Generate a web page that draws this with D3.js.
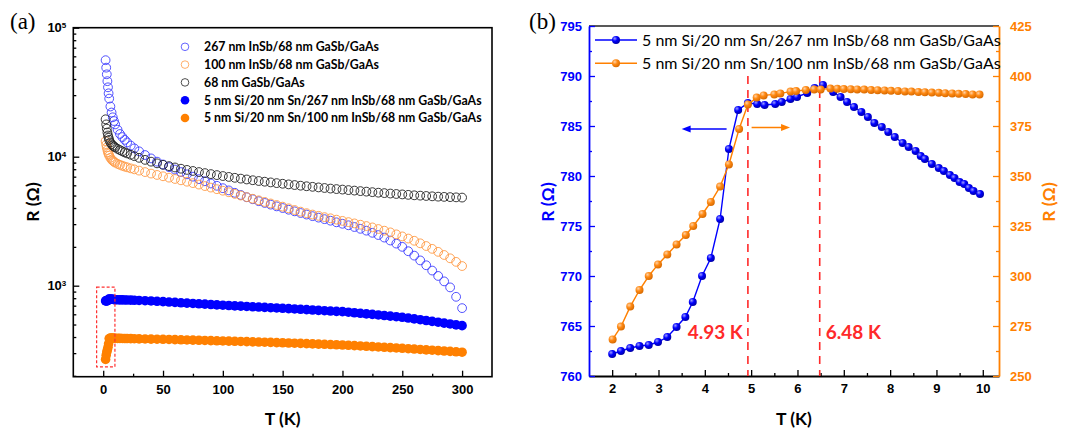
<!DOCTYPE html>
<meta charset="utf-8">
<style>
    body {
        margin: 0;
        background: #fff;
    }

    svg {
        font-family: Lato, "Open Sans", sans-serif;
    }

    .tick text {
        font-weight: bold;
        font-size: 13px;
    }

    .ttl {
        font-weight: bold;
        font-size: 17.5px;
    }
</style>

<body>
    <script src="https://cdn.jsdelivr.net/npm/d3@7"></script>
    <script>
        // ---- panel (a): R(T) from 2 K to 300 K ----
        var tempA = [2, 2.5, 3, 3.5, 4, 4.5, 5, 6, 7, 8, 9, 10, 12, 14, 16, 18, 20, 23, 26, 30,
            35, 40, 45, 50, 55, 60, 65, 70, 75, 80, 85, 90, 95, 100, 105, 110, 115, 120, 125, 130,
            135, 140, 145, 150, 155, 160, 165, 170, 175, 180, 185, 190, 195, 200, 205, 210, 215, 220,
            225, 230, 235, 240, 245, 250, 255, 260, 265, 270, 275, 280, 285, 290, 295, 300];

        // 267 nm InSb/68 nm GaSb/GaAs
        var rInSb267 = [56000, 49000, 43500, 38500, 34500, 31000, 28200, 24500, 22000, 20200, 18900, 17800, 16200, 15000, 14200, 13500, 12900, 12200, 11600, 11000,
            10300, 9700, 9150, 8700, 8300, 7950, 7600, 7300, 7000, 6700, 6450, 6200, 5950, 5700, 5480, 5250, 5050, 4850, 4680, 4520,
            4380, 4250, 4120, 4000, 3880, 3770, 3660, 3560, 3460, 3370, 3280, 3190, 3100, 3020, 2940, 2850, 2760, 2670,
            2570, 2470, 2360, 2240, 2120, 2000, 1850, 1710, 1570, 1440, 1310, 1190, 1080, 970, 820, 670];

        // 100 nm InSb/68 nm GaSb/GaAs
        var rInSb100 = [13200, 12400, 11800, 11250, 10800, 10500, 10200, 9800, 9500, 9300, 9150, 9000, 8800, 8650, 8500, 8380, 8270, 8120, 7980, 7800,
            7600, 7400, 7220, 7050, 6880, 6720, 6560, 6400, 6240, 6080, 5920, 5760, 5600, 5450, 5300, 5150, 5000, 4860, 4720, 4590,
            4460, 4340, 4220, 4100, 3980, 3860, 3750, 3650, 3560, 3480, 3400, 3330, 3250, 3180, 3110, 3040, 2970, 2900,
            2830, 2750, 2670, 2590, 2500, 2410, 2320, 2230, 2130, 2030, 1930, 1830, 1730, 1630, 1530, 1420];

        // 68 nm GaSb/GaAs
        var rGaSb = [19500, 17800, 16500, 15400, 14600, 14000, 13500, 12900, 12500, 12200, 12000, 11800, 11500, 11250, 11000, 10800, 10600, 10350, 10100, 9800,
            9450, 9150, 8880, 8650, 8450, 8250, 8070, 7900, 7750, 7600, 7460, 7330, 7200, 7080, 6970, 6860, 6760, 6660, 6570, 6480,
            6400, 6320, 6240, 6170, 6100, 6030, 5960, 5900, 5840, 5780, 5720, 5660, 5610, 5560, 5510, 5460, 5410, 5360,
            5310, 5260, 5220, 5180, 5140, 5100, 5060, 5020, 4990, 4960, 4930, 4900, 4880, 4860, 4840, 4820];

        // 5 nm Si/20 nm Sn/267 nm InSb/68 nm GaSb/GaAs
        var rSn267 = [762, 763, 763.4, 765.5, 770, 782.7, 787.3, 787.9, 787.5, 784.2, 781, 778.3, 777.5, 776.7, 775.9, 775, 774, 772.3, 770.5, 768,
            765, 761.5, 757, 752, 747, 742, 737, 733, 728, 724, 719, 715, 710, 706, 702, 698, 694, 690, 686, 683,
            679, 675, 672, 668, 664, 660, 656, 652, 648, 644, 640, 636, 632, 629, 623, 617, 611, 605,
            599, 593, 587, 581, 575, 569, 561, 553, 545, 537, 529, 521, 513, 505, 497, 490];

        // 5 nm Si/20 nm Sn/100 nm InSb/68 nm GaSb/GaAs
        var rSn100 = [268, 289, 306, 318, 333, 354, 389, 392.5, 393.5, 392.8, 391.8, 390.7, 390.5, 390.2, 389.9, 389.5, 389.2, 388.6, 388, 387.3,
            386.4, 385.6, 384.8, 384, 383, 381.9, 380.8, 379.7, 378.6, 377.5, 376.3, 375.2, 374.1, 373, 371.8, 370.6, 369.4, 368.2, 367, 365.8,
            364.6, 363.4, 362.2, 361, 359.6, 358.2, 356.8, 355.4, 354, 352.6, 351.2, 349.8, 348.4, 347, 345, 343, 341, 339,
            337, 335, 333, 331, 329, 327, 324.8, 322.6, 320.4, 318.2, 316, 313.8, 311.6, 309.4, 307.2, 305];

        var ticksXA = [0, 50, 100, 150, 200, 250, 300];
        var ticksYA = [1e3, 1e4, 1e5];

        // ---- panel (b): zoom 2 K .. 10 K ----
        var tempB267 = [2.0, 2.19, 2.39, 2.59, 2.79, 2.99, 3.19, 3.39, 3.58, 3.74, 3.94, 4.13, 4.33, 4.52, 4.72, 4.93, 5.13, 5.29, 5.52, 5.66,
            5.85, 5.99, 6.21, 6.37, 6.55, 6.77, 6.93, 7.07, 7.22, 7.38, 7.52, 7.66, 7.82, 7.96, 8.1, 8.27, 8.4, 8.55, 8.66, 8.75,
            8.9, 9.05, 9.16, 9.29, 9.39, 9.5, 9.6, 9.7, 9.8, 9.94];
        var rB267 = [762.2, 762.5, 762.8, 763.0, 763.1, 763.4, 763.9, 764.9, 765.9, 767.4, 770.0, 771.8, 775.7, 782.7, 786.6, 787.3, 787.2, 787.1, 787.2, 787.4,
            787.7, 787.9, 788.3, 788.8, 789.1, 788.4, 787.9, 787.4, 786.9, 786.4, 785.9, 785.3, 784.9, 784.4, 783.9, 783.3, 782.9, 782.5, 782.0, 781.7,
            781.2, 780.8, 780.5, 780.1, 779.8, 779.4, 779.2, 778.8, 778.5, 778.2];

        var tempB100 = [2.01, 2.19, 2.39, 2.59, 2.79, 2.99, 3.19, 3.39, 3.59, 3.75, 3.95, 4.13, 4.33, 4.52, 4.74, 4.93, 5.12, 5.27, 5.5, 5.63,
            5.85, 5.97, 6.18, 6.36, 6.5, 6.71, 6.86, 7.0, 7.15, 7.29, 7.44, 7.59, 7.73, 7.88, 8.02, 8.17, 8.32, 8.46, 8.61, 8.75,
            8.9, 9.05, 9.19, 9.34, 9.48, 9.63, 9.78, 9.93];
        var rB100 = [268.3, 274.7, 284.7, 293, 300, 305.8, 310.8, 315.8, 320.5, 325, 331, 337, 344.7, 355.8, 373.5, 385.8, 389.2, 390.3, 390.8, 391.3,
            392.2, 392.5, 393, 393.3, 393.3, 393.7, 393.6, 393.5, 393.4, 393.3, 393.2, 393.0, 392.9, 392.8, 392.6, 392.5, 392.3, 392.2, 392.0, 391.9,
            391.7, 391.6, 391.4, 391.3, 391.1, 391.0, 390.8, 390.7];

        var ticksXB = [2, 3, 4, 5, 6, 7, 8, 9, 10];
        var ticksYBL = [760, 765, 770, 775, 780, 785, 790, 795];
        var ticksYBR = [250, 275, 300, 325, 350, 375, 400, 425];
        var transitions = [4.93, 6.48];

        var blue = "#0000ff",
            orange = "#ff8000";

        var svg = d3.select("body").append("svg")
            .attr("width", 1083)
            .attr("height", 434);

        var defs = svg.append("defs");

        function ball(id, c0, c1, c2) {
            var g = defs.append("radialGradient").attr("id", id)
                .attr("cx", "35%").attr("cy", "32%").attr("r", "70%");
            g.append("stop").attr("offset", "0%").attr("stop-color", c0);
            g.append("stop").attr("offset", "45%").attr("stop-color", c1);
            g.append("stop").attr("offset", "100%").attr("stop-color", c2);
        }
        ball("ballBlue", "#9c9cff", "#0000ff", "#0000a8");
        ball("ballOrange", "#ffd2a6", "#ff8a14", "#d86a00");

        // ================= panel (a) =================
        var xA = d3.scaleLinear().domain([-25, 325]).range([73.3, 492]);
        var yA = d3.scaleLog().domain([197, 1e5]).range([376.7, 27.7]);

        var gA = svg.append("g");

        gA.append("text")
            .attr("x", 10).attr("y", 29)
            .style("font-family", "'Liberation Serif', 'DejaVu Serif', serif")
            .style("font-size", "23px")
            .text("(a)");

        var minorYA = [];
        [100, 1000, 10000].forEach(function(d) {
            for (var k = 2; k <= 9; k++)
                if (d * k > 197) minorYA.push(d * k);
        });

        gA.append("g")
            .attr("transform", "translate(0,376.7)")
            .call(d3.axisBottom(xA).tickValues([25, 75, 125, 175, 225, 275]).tickSizeInner(-3).tickSizeOuter(0).tickFormat(""));
        gA.append("g")
            .attr("transform", "translate(0,376.7)")
            .call(d3.axisBottom(xA).tickValues(ticksXA).tickSizeInner(-6).tickSizeOuter(0).tickPadding(8));

        gA.append("g")
            .attr("transform", "translate(73.3,0)")
            .call(d3.axisLeft(yA).tickValues(minorYA).tickSizeInner(-3).tickSizeOuter(0).tickFormat(""));
        var yAxA = gA.append("g")
            .attr("transform", "translate(73.3,0)")
            .call(d3.axisLeft(yA).tickValues(ticksYA).tickSizeInner(-6).tickSizeOuter(0).tickPadding(7).tickFormat(""));
        yAxA.selectAll(".tick text").each(function(d) {
            var t = d3.select(this);
            t.append("tspan").text("10");
            t.append("tspan").attr("dy", "-0.5em").style("font-size", "8px")
                .text(Math.round(Math.log10(d)));
        });

        gA.selectAll(".domain").remove();
        gA.selectAll(".tick line").attr("stroke", "#000").attr("stroke-width", 1.3);

        gA.append("rect")
            .attr("x", 73.3).attr("y", 27.7)
            .attr("width", 492 - 73.3).attr("height", 376.7 - 27.7)
            .attr("fill", "none").attr("stroke", "#000").attr("stroke-width", 1.6);

        gA.append("text").attr("class", "ttl")
            .attr("x", xA(150)).attr("y", 425)
            .attr("text-anchor", "middle")
            .text("T (K)");
        gA.append("text").attr("class", "ttl")
            .attr("transform", "translate(39,202) rotate(-90)")
            .attr("text-anchor", "middle")
            .text("R (Ω)");

        var seriesA = [
            { vals: rInSb267, col: "#3d3dff", fill: false },
            { vals: rInSb100, col: "#ff9a45", fill: false },
            { vals: rGaSb, col: "#222", fill: false },
            { vals: rSn267, col: blue, fill: true },
            { vals: rSn100, col: orange, fill: true }
        ];
        var legendA = ["267 nm InSb/68 nm GaSb/GaAs",
            "100 nm InSb/68 nm GaSb/GaAs",
            "68 nm GaSb/GaAs",
            "5 nm Si/20 nm Sn/267 nm InSb/68 nm GaSb/GaAs",
            "5 nm Si/20 nm Sn/100 nm InSb/68 nm GaSb/GaAs"
        ];

        seriesA.forEach(function(s) {
            gA.append("g").selectAll("circle")
                .data(tempA)
                .enter().append("circle")
                .attr("cx", function(d) { return xA(d); })
                .attr("cy", function(d, i) { return yA(s.vals[i]); })
                .attr("r", s.fill ? 4.8 : 4.4)
                .attr("fill", s.fill ? s.col : "none")
                .attr("stroke", s.col)
                .attr("stroke-width", s.fill ? 0 : 0.9);
        });

        // red dashed box around the low temperature part
        gA.append("rect")
            .attr("x", xA(-5.5)).attr("y", yA(975))
            .attr("width", xA(9.8) - xA(-5.5))
            .attr("height", yA(235) - yA(975))
            .attr("fill", "none")
            .attr("stroke", "#ff3030")
            .attr("stroke-width", 1.2)
            .attr("stroke-dasharray", "3,2");

        var legA = gA.selectAll(".legA")
            .data(seriesA)
            .enter().append("g")
            .attr("class", "legA")
            .attr("transform", function(d, i) {
                return "translate(185," + (46.8 + i * 17.8) + ")";
            });
        legA.append("circle")
            .attr("r", function(d) { return d.fill ? 4.3 : 3.8; })
            .attr("fill", function(d) { return d.fill ? d.col : "none"; })
            .attr("stroke", function(d) { return d.col; })
            .attr("stroke-width", function(d) { return d.fill ? 0 : 0.8; });
        legA.append("text")
            .attr("x", 19).attr("dy", "0.36em")
            .style("font-weight", "bold")
            .style("font-size", "12.3px")
            .text(function(d, i) { return legendA[i]; });

        // ================= panel (b) =================
        var xB = d3.scaleLinear().domain([1.5, 10.35]).range([589, 999]);
        var yBL = d3.scaleLinear().domain([760, 795]).range([376, 26]);
        var yBR = d3.scaleLinear().domain([250, 425]).range([376, 26]);

        var gB = svg.append("g");

        gB.append("text")
            .attr("x", 529).attr("y", 29)
            .style("font-family", "'Liberation Serif', 'DejaVu Serif', serif")
            .style("font-size", "23px")
            .text("(b)");

        // top frame line
        gB.append("line")
            .attr("x1", 589).attr("x2", 999).attr("y1", 26).attr("y2", 26)
            .attr("stroke", "#222").attr("stroke-width", 1.6);

        var bx = gB.append("g").attr("transform", "translate(0,376)");
        bx.call(d3.axisBottom(xB).tickValues([2.5, 3.5, 4.5, 5.5, 6.5, 7.5, 8.5, 9.5]).tickSizeInner(-3).tickSizeOuter(0).tickFormat(""));
        var bx2 = gB.append("g").attr("transform", "translate(0,376)")
            .call(d3.axisBottom(xB).tickValues(ticksXB).tickSizeInner(-6).tickSizeOuter(0).tickPadding(8));
        bx.select(".domain").attr("stroke", "#000").attr("stroke-width", 1.8);
        bx2.select(".domain").remove();
        gB.selectAll(".tick line").attr("stroke", "#000").attr("stroke-width", 1.3);

        var byl = gB.append("g").attr("transform", "translate(589,0)");
        byl.call(d3.axisLeft(yBL).tickValues(d3.range(762.5, 795, 5)).tickSizeInner(-3).tickSizeOuter(0).tickFormat(""));
        var byl2 = gB.append("g").attr("transform", "translate(589,0)")
            .call(d3.axisLeft(yBL).tickValues(ticksYBL).tickSizeInner(-6).tickSizeOuter(0).tickPadding(7));
        byl2.select(".domain").remove();
        byl.select(".domain").attr("stroke", blue).attr("stroke-width", 1.8);
        [byl, byl2].forEach(function(a) {
            a.selectAll(".tick line").attr("stroke", blue).attr("stroke-width", 1.3);
            a.selectAll(".tick text").attr("fill", blue);
        });

        var byr = gB.append("g").attr("transform", "translate(999,0)");
        byr.call(d3.axisRight(yBR).tickValues(d3.range(262.5, 425, 25)).tickSizeInner(-3).tickSizeOuter(0).tickFormat(""));
        var byr2 = gB.append("g").attr("transform", "translate(999,0)")
            .call(d3.axisRight(yBR).tickValues(ticksYBR).tickSizeInner(-6).tickSizeOuter(0).tickPadding(11));
        byr2.select(".domain").remove();
        byr.select(".domain").attr("stroke", orange).attr("stroke-width", 1.8);
        [byr, byr2].forEach(function(a) {
            a.selectAll(".tick line").attr("stroke", orange).attr("stroke-width", 1.3);
            a.selectAll(".tick text").attr("fill", orange);
        });

        gB.append("text").attr("class", "ttl")
            .attr("x", 794).attr("y", 425)
            .attr("text-anchor", "middle")
            .text("T (K)");
        gB.append("text").attr("class", "ttl")
            .attr("transform", "translate(554,202) rotate(-90)")
            .attr("text-anchor", "middle")
            .attr("fill", blue)
            .text("R (Ω)");
        gB.append("text").attr("class", "ttl")
            .attr("transform", "translate(1055,202) rotate(-90)")
            .attr("text-anchor", "middle")
            .attr("fill", orange)
            .text("R (Ω)");

        // transition markers
        gB.selectAll(".tc")
            .data(transitions)
            .enter().append("line")
            .attr("class", "tc")
            .attr("x1", function(d) { return xB(d); })
            .attr("x2", function(d) { return xB(d); })
            .attr("y1", yBL(790)).attr("y2", yBL(760))
            .attr("stroke", "#ff2a2a")
            .attr("stroke-width", 1.6)
            .attr("stroke-dasharray", "8,6");
        gB.selectAll(".tcl")
            .data(transitions)
            .enter().append("text")
            .attr("x", function(d, i) { return xB(d) + (i == 0 ? -5 : 6); })
            .attr("y", 339)
            .attr("text-anchor", function(d, i) { return i == 0 ? "end" : "start"; })
            .attr("fill", "#ff2a2a")
            .style("font-weight", "bold")
            .style("font-size", "19px")
            .text(function(d) { return d.toFixed(2) + " K"; });

        // arrows pointing to the matching axis
        function arrow(x1, x2, y, col) {
            var dir = x2 > x1 ? 1 : -1;
            gB.append("line")
                .attr("x1", x1).attr("x2", x2 - dir * 6).attr("y1", y).attr("y2", y)
                .attr("stroke", col).attr("stroke-width", 1.5);
            gB.append("path")
                .attr("d", "M" + x2 + "," + y + "L" + (x2 - dir * 9) + "," + (y - 3.5) + "L" + (x2 - dir * 9) + "," + (y + 3.5) + "Z")
                .attr("fill", col);
        }
        arrow(xB(4.47), xB(3.5), yBL(784.7), blue);
        arrow(xB(5.01), xB(5.84), yBR(374.2), orange);

        var seriesB = [
            { t: tempB267, r: rB267, y: yBL, col: blue, ball: "url(#ballBlue)" },
            { t: tempB100, r: rB100, y: yBR, col: orange, ball: "url(#ballOrange)" }
        ];

        var line = d3.line();
        seriesB.forEach(function(s) {
            gB.append("path")
                .attr("d", line(s.t.map(function(d, i) { return [xB(d), s.y(s.r[i])]; })))
                .attr("fill", "none")
                .attr("stroke", s.col)
                .attr("stroke-width", 1.4);
            gB.append("g").selectAll("circle")
                .data(s.t)
                .enter().append("circle")
                .attr("cx", function(d) { return xB(d); })
                .attr("cy", function(d, i) { return s.y(s.r[i]); })
                .attr("r", 4)
                .attr("fill", s.ball);
        });

        var legendB = ["5 nm Si/20 nm Sn/267 nm InSb/68 nm GaSb/GaAs",
            "5 nm Si/20 nm Sn/100 nm InSb/68 nm GaSb/GaAs"
        ];
        var legB = gB.selectAll(".legB")
            .data(seriesB)
            .enter().append("g")
            .attr("class", "legB")
            .attr("transform", function(d, i) {
                return "translate(595," + (40 + i * 23.3) + ")";
            });
        legB.append("line")
            .attr("x1", 0).attr("x2", 42)
            .attr("stroke", function(d) { return d.col; })
            .attr("stroke-width", 1.4);
        legB.append("circle")
            .attr("cx", 21).attr("r", 4)
            .attr("fill", function(d) { return d.ball; });
        legB.append("text")
            .attr("x", 47).attr("dy", "0.36em")
            .style("font-size", "16px")
            .text(function(d, i) { return legendB[i]; });
    </script>
</body>
